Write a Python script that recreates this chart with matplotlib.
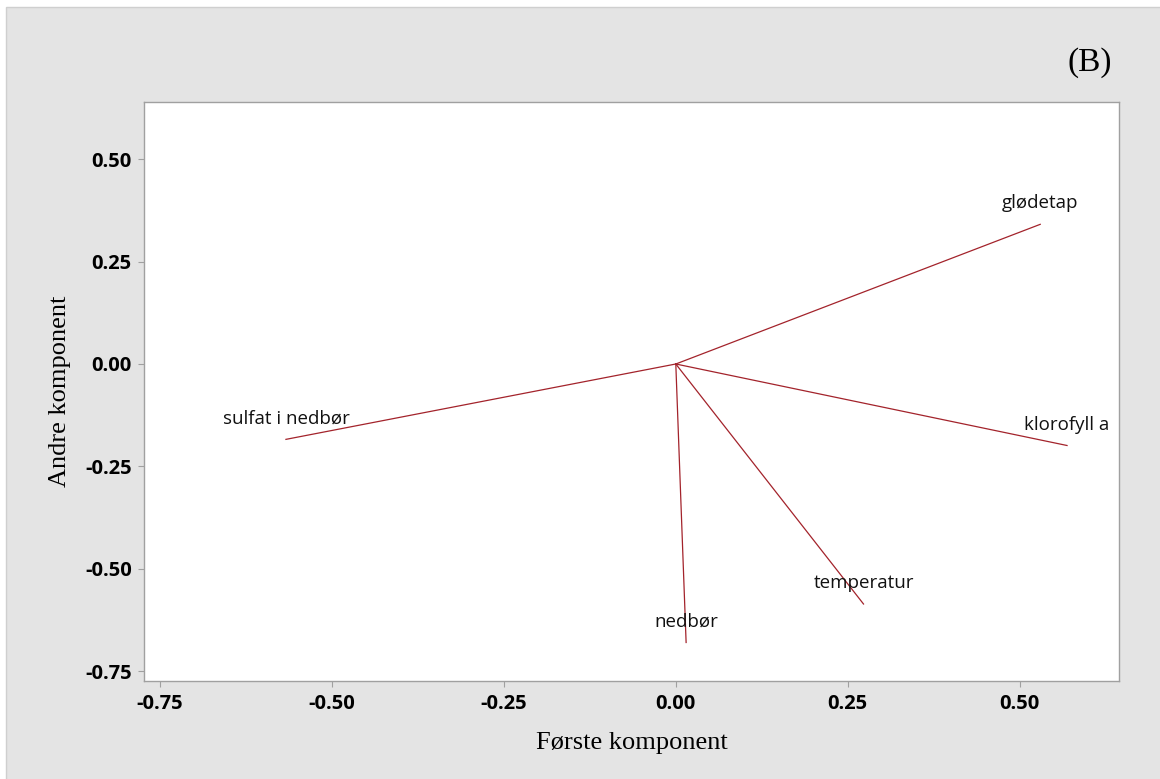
import matplotlib
matplotlib.use("Agg")
import matplotlib.pyplot as plt
from matplotlib.patches import Rectangle

# Loadings (first component, second component)
variables = ['glødetap', 'klorofyll a', 'temperatur', 'nedbør', 'sulfat i nedbør']
first_comp = [0.530, 0.569, 0.273, 0.015, -0.567]
second_comp = [0.341, -0.199, -0.586, -0.680, -0.184]

xticks = [-0.75, -0.50, -0.25, 0.00, 0.25, 0.50]
yticks = [-0.75, -0.50, -0.25, 0.00, 0.25, 0.50]

BG = '#e4e4e4'
LINE = '#a3232b'
SPINE = '#a0a0a0'

fig = plt.figure(figsize=(11.6, 7.79), dpi=100)
fig.patch.set_facecolor('white')
# grey panel with thin border, starting a few px in from top/left
panel = Rectangle((6 / 1160, -0.01), 1.02, 1 - 7 / 779 + 0.01,
                  transform=fig.transFigure, facecolor=BG,
                  edgecolor='#cfcfcf', linewidth=1.0, zorder=-10)
fig.patches.append(panel)

ax = fig.add_axes([0.1244, 0.1258, 0.8405, 0.7429])
ax.set_zorder(1)
ax.set_facecolor('white')

for name, x, y in zip(variables, first_comp, second_comp):
    ax.plot([0, x], [0, y], color=LINE, linewidth=0.9)
    ax.annotate(name, (x, y), xytext=(0, 21), textcoords='offset pixels',
                ha='center', va='center', fontsize=13.5, family='Open Sans',
                color='#111111')

ax.set_xlim(-0.773, 0.645)
ax.set_ylim(-0.774, 0.639)
ax.set_xticks(xticks)
ax.set_yticks(yticks)
ax.set_xticklabels([f'{v:.2f}' for v in xticks])
ax.set_yticklabels([f'{v:.2f}' for v in yticks])

for s in ax.spines.values():
    s.set_color(SPINE)
    s.set_linewidth(1.0)

ax.tick_params(axis='both', direction='out', length=4, width=0.8, color=SPINE,
               labelsize=14.5, pad=5)
for lbl in ax.get_xticklabels() + ax.get_yticklabels():
    lbl.set_fontfamily('Open Sans')
    lbl.set_fontweight('bold')

ax.set_xlabel('Første komponent', family='Liberation Serif', fontsize=19,
              va='center')
ax.xaxis.set_label_coords(0.5, -0.107)
ax.set_ylabel('Andre komponent', family='Liberation Serif', fontsize=19,
              va='center')
ax.yaxis.set_label_coords(-0.0865, 0.5)

fig.text(1090 / 1160, 1 - 63 / 779, '(B)', family='Liberation Serif',
         fontsize=24, ha='center', va='center', zorder=2)

fig.savefig('out.png', dpi=100)
